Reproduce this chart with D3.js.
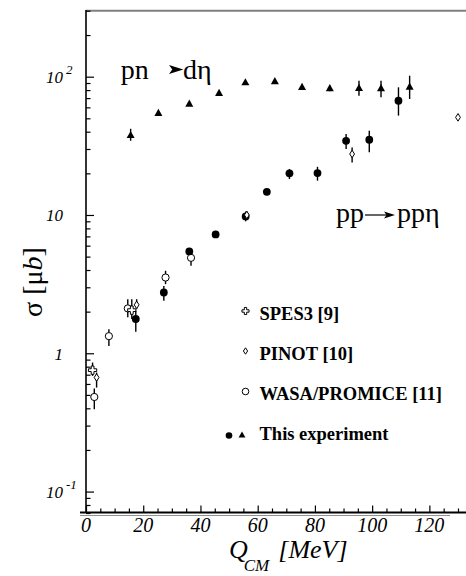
<!DOCTYPE html>
<html>
<head>
<meta charset="utf-8">
<script src="https://cdn.jsdelivr.net/npm/d3@7/dist/d3.min.js"></script>
<style>
  html, body { margin: 0; padding: 0; background: #fff; }
  svg text { font-family: 'Liberation Serif', 'Times New Roman', Times, serif; }
</style>
</head>
<body>
<svg id="chart" width="466" height="576"></svg>
<script>
// ---------------- data ----------------
// pn -> d eta (this experiment, triangles)
const dEtaQ   = [15.6, 25.3, 36.1, 46.5, 55.7, 66.0, 75.5, 85.2, 95.4, 103.1, 113.1];
const dEtaSig = [37.8, 54.6, 63.8, 76.2, 91.0, 92.6, 84.2, 82.4, 82.8, 82.4, 84.7];
const dEtaLo  = [34.4, 53.0, 62.0, 74.5, 89.0, 90.5, 81.0, 78.5, 72.9, 71.0, 69.0];
const dEtaHi  = [42.0, 56.0, 65.5, 78.0, 93.0, 94.5, 87.5, 86.5, 93.6, 93.6, 101.7];

// pp -> pp eta (this experiment, filled circles)
const ppQ   = [17.4, 27.2, 36.1, 45.3, 55.8, 63.2, 71.1, 80.9, 90.9, 99.0, 109.2];
const ppSig = [1.77, 2.75, 5.45, 7.24, 9.77, 14.7, 20.0, 20.1, 34.4, 35.0, 67.0];
const ppLo  = [1.43, 2.40, 5.20, 7.00, 9.00, 14.2, 18.2, 17.7, 30.0, 28.4, 52.3];
const ppHi  = [2.03, 3.07, 5.75, 7.50, 10.6, 15.2, 21.5, 22.3, 38.5, 40.7, 83.8];

// SPES3 [9] (open crosses)
const spesQ   = [2.3, 16.0];
const spesSig = [0.755, 2.05];
const spesLo  = [0.686, 1.77];
const spesHi  = [0.857, 2.46];

// PINOT [10] (open diamonds)
const pinotQ   = [3.7, 17.7, 56.2, 93.0, 130.0];
const pinotSig = [0.668, 2.24, 10.0, 27.6, 50.8];
const pinotLo  = [0.565, 2.10, 9.40, 24.0, 50.8];
const pinotHi  = [0.726, 2.46, 10.6, 30.8, 50.8];

// WASA/PROMICE [11] (open circles)
const wasaQ   = [2.9, 8.0, 14.6, 27.8, 36.7];
const wasaSig = [0.483, 1.33, 2.11, 3.53, 4.90];
const wasaLo  = [0.394, 1.13, 1.82, 3.16, 4.29];
const wasaHi  = [0.556, 1.49, 2.46, 3.95, 5.21];

// axis tick labels
const xTickValues = [0, 20, 40, 60, 80, 100, 120];
const xTickLabels = ["0", "20", "40", "60", "80", "100", "120"];
const yTickValues = [0.1, 1, 10, 100];
const yTickBase   = ["10", "1", "10", "10"];
const yTickExp    = ["-1", "", "", "2"];

const legendLabels = ["SPES3 [9]", "PINOT [10]", "WASA/PROMICE [11]", "This experiment"];

// ---------------- drawing ----------------
const FONT = "'Liberation Serif', 'Times New Roman', Times, serif";
const svg = d3.select("#chart").attr("font-family", FONT);
const x = d3.scaleLinear().domain([0, 132.8]).range([86, 466]);
const y = d3.scaleLog().domain([0.07, 300]).range([513, 10.7]);

// frame
svg.append("line").attr("x1", 86).attr("x2", 466).attr("y1", 10.7).attr("y2", 10.7)
  .attr("stroke", "#808080").attr("stroke-width", 2);
svg.append("line").attr("x1", 80).attr("x2", 450).attr("y1", 515.5).attr("y2", 515.5)
  .attr("stroke", "#909090").attr("stroke-width", 1);

// y axis (ticks inside)
const majorY = new Set(yTickValues);
const yMinor = y.ticks().filter(v => !majorY.has(v));
svg.append("g").attr("transform", "translate(86,0)")
  .call(d3.axisRight(y).tickValues(yMinor).tickSize(4.5).tickFormat(""))
  .call(g => g.select(".domain").remove())
  .call(g => g.selectAll("line").attr("stroke", "#000").attr("stroke-width", 1.2));
svg.append("g").attr("transform", "translate(86,0)")
  .call(d3.axisRight(y).tickValues(yTickValues).tickSize(8).tickFormat(""))
  .call(g => g.select(".domain").remove())
  .call(g => g.selectAll("line").attr("stroke", "#000").attr("stroke-width", 1.2));
svg.append("line").attr("x1", 86).attr("x2", 86).attr("y1", 10).attr("y2", 513)
  .attr("stroke", "#000").attr("stroke-width", 1.6);

// x axis (ticks inside)
const xMinor = d3.range(0, 133, 5).filter(v => v % 20 !== 0);
svg.append("g").attr("transform", "translate(0,512.5)")
  .call(d3.axisTop(x).tickValues(xMinor).tickSize(4).tickFormat(""))
  .call(g => g.select(".domain").remove())
  .call(g => g.selectAll("line").attr("stroke", "#000").attr("stroke-width", 1.2));
svg.append("g").attr("transform", "translate(0,512.5)")
  .call(d3.axisTop(x).tickValues(xTickValues).tickSize(7).tickFormat(""))
  .call(g => g.select(".domain").remove())
  .call(g => g.selectAll("line").attr("stroke", "#000").attr("stroke-width", 1.2));
svg.append("line").attr("x1", 80).attr("x2", 466).attr("y1", 512.5).attr("y2", 512.5)
  .attr("stroke", "#000").attr("stroke-width", 1.8);

// x tick labels
svg.append("g").selectAll("text").data(xTickValues).join("text")
  .attr("font-family", FONT)
  .attr("x", d => x(d)).attr("y", 532)
  .attr("text-anchor", "middle").attr("font-size", 20).attr("font-style", "italic")
  .text((d, i) => xTickLabels[i]);

// y tick labels
const yl = svg.append("g").attr("font-family", FONT);
yl.selectAll("text.base").data(yTickValues).join("text").attr("class", "base")
  .attr("x", 63).attr("y", d => y(d) + 6.5)
  .attr("text-anchor", "end").attr("font-size", 17).attr("font-style", "italic")
  .text((d, i) => yTickBase[i]);
yl.selectAll("text.exp").data(yTickValues).join("text").attr("class", "exp")
  .attr("x", 66).attr("y", d => y(d) - 3)
  .attr("text-anchor", "start").attr("font-size", 13).attr("font-style", "italic")
  .text((d, i) => yTickExp[i]);

// axis titles
const yt = svg.append("text").attr("transform", "translate(42,282) rotate(-90)")
  .attr("font-family", FONT).attr("text-anchor", "middle").attr("font-size", 28);
yt.append("tspan").text("σ [μ");
yt.append("tspan").attr("font-style", "italic").text("b");
yt.append("tspan").text("]");

const xt = svg.append("text").attr("x", 229).attr("y", 558).attr("font-family", FONT)
  .attr("font-size", 26).attr("font-style", "italic");
xt.append("tspan").text("Q");
xt.append("tspan").attr("font-size", 17).attr("dy", 13).attr("dx", -4).text("CM");
xt.append("tspan").attr("dy", -13).attr("dx", 9).text("[MeV]");

// reaction labels
const arrowHead = "M0,-3.5 L11,0 L0,3.5 L2.5,0 Z";
const lab = svg.append("g").attr("font-family", FONT).attr("font-size", 28);
lab.append("text").attr("x", 120.7).attr("y", 79).text("pn");
lab.append("path").attr("d", arrowHead).attr("transform", "translate(169,69.5) scale(1.3)").attr("fill", "#000");
lab.append("text").attr("x", 183).attr("y", 79).text("dη");
lab.append("text").attr("x", 336).attr("y", 222).text("pp");
lab.append("line").attr("x1", 365).attr("x2", 387).attr("y1", 215).attr("y2", 215).attr("stroke", "#000").attr("stroke-width", 1.2);
lab.append("path").attr("d", arrowHead).attr("transform", "translate(384,215) scale(1.0)").attr("fill", "#000");
lab.append("text").attr("x", 397).attr("y", 222).text("ppη");

// markers
const triPath = "M0,-4.2 L4,3 L-4,3 Z";
const diaPath = "M0,-3.8 L2.4,0 L0,3.8 L-2.4,0 Z";
const crossPath = d3.symbol().type(d3.symbolCross).size(38)();

function series(Q, S, Lo, Hi, drawMarker) {
  const g = svg.append("g");
  const idx = d3.range(Q.length);
  g.selectAll("line").data(idx).join("line")
    .attr("x1", i => x(Q[i])).attr("x2", i => x(Q[i]))
    .attr("y1", i => y(Lo[i])).attr("y2", i => y(Hi[i]))
    .attr("stroke", "#000").attr("stroke-width", 1.4);
  drawMarker(g.selectAll("g.m").data(idx).join("g").attr("class", "m")
    .attr("transform", i => `translate(${x(Q[i])},${y(S[i])})`));
}

series(wasaQ, wasaSig, wasaLo, wasaHi, s => s.append("circle").attr("r", 3.6)
  .attr("fill", "#fff").attr("stroke", "#000").attr("stroke-width", 1));
series(spesQ, spesSig, spesLo, spesHi, s => s.append("path").attr("d", crossPath)
  .attr("fill", "#fff").attr("stroke", "#000").attr("stroke-width", 1));
series(ppQ, ppSig, ppLo, ppHi, s => s.append("circle").attr("r", 3.9).attr("fill", "#000"));
series(pinotQ, pinotSig, pinotLo, pinotHi, s => s.append("path").attr("d", diaPath)
  .attr("fill", "#fff").attr("stroke", "#000").attr("stroke-width", 1));
series(dEtaQ, dEtaSig, dEtaLo, dEtaHi, s => s.append("path").attr("d", triPath).attr("fill", "#000"));

// legend
const lg = svg.append("g").attr("font-family", FONT).attr("font-size", 18.5).attr("font-weight", "bold");
const legY = [320, 360, 400, 440];
lg.selectAll("text").data(legendLabels).join("text")
  .attr("x", 259.5).attr("y", (d, i) => legY[i]).text(d => d);
lg.append("path").attr("d", d3.symbol().type(d3.symbolCross).size(28)())
  .attr("transform", `translate(245.5,${legY[0] - 9})`).attr("fill", "#fff").attr("stroke", "#000").attr("stroke-width", 1);
lg.append("path").attr("d", "M0,-3.2 L2.1,0 L0,3.2 L-2.1,0 Z")
  .attr("transform", `translate(245.5,${legY[1] - 9})`).attr("fill", "#fff").attr("stroke", "#000").attr("stroke-width", 1);
lg.append("circle").attr("cx", 245.5).attr("cy", legY[2] - 8.5).attr("r", 3.3)
  .attr("fill", "#fff").attr("stroke", "#000").attr("stroke-width", 1);
lg.append("circle").attr("cx", 229).attr("cy", legY[3] - 4.5).attr("r", 3.3).attr("fill", "#000");
lg.append("path").attr("d", "M0,-3.5 L3.4,2.6 L-3.4,2.6 Z")
  .attr("transform", `translate(242,${legY[3] - 5})`).attr("fill", "#000");
</script>
</body>
</html>
